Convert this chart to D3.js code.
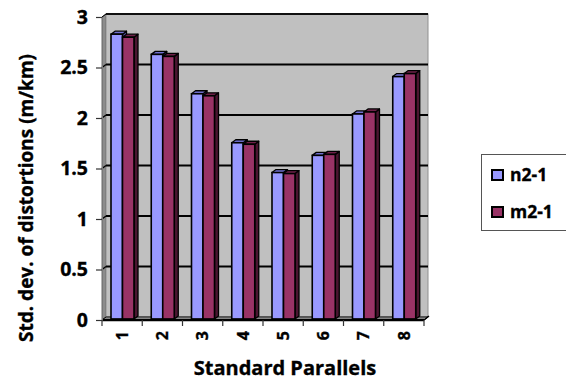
<!DOCTYPE html>
<html><head><meta charset="utf-8">
<script src="https://cdn.jsdelivr.net/npm/d3@7"></script>
<style>body{margin:0;background:#fff}svg{display:block}</style>
</head><body>
<svg id="c" width="566" height="380"></svg>
<script>
const categories = ["1","2","3","4","5","6","7","8"];
const seriesNames = ["n2-1","m2-1"];
const n2 = [2.83,2.63,2.24,1.755,1.46,1.63,2.04,2.41];
const m2 = [2.80,2.61,2.22,1.74,1.45,1.64,2.06,2.44];
const yTicks = [0,0.5,1,1.5,2,2.5,3];
const yTickLabels = ["0","0.5","1","1.5","2","2.5","3"];
const colors = ["#9999FF","#993366"];
const topColors = ["#7070d0","#6e2048"];
const sideColors = ["#5555aa","#4a1530"];

const svg = d3.select("#c");
const font = "'Open Sans', 'DejaVu Sans', sans-serif";
const heavy = sel => sel.attr("font-family",font).attr("font-weight","bold").attr("fill","#000")
  .attr("stroke","#000").attr("stroke-width",0.35);
const dx = 4, dy = -3;
const y = d3.scaleLinear().domain([0,3]).range([320,17]);
const x = d3.scaleBand().domain(categories).range([102,424]).padding(0);
const xs = d3.scaleBand().domain(seriesNames).range([9,32]).padding(0);

const x0 = 102, x1 = 424, yb = y(0), yt = y(3);
// left wall
svg.append("polygon").attr("points",[[x0,yb],[x0+dx,yb+dy],[x0+dx,yt+dy],[x0,yt]].join(" "))
  .attr("fill","#8c8c8c").attr("stroke","#444").attr("stroke-width",0.8);
// back wall
svg.append("rect").attr("x",x0+dx).attr("y",yt+dy).attr("width",x1-x0).attr("height",yb-yt)
  .attr("fill","#C0C0C0").attr("stroke","#909090").attr("stroke-width",1);
svg.append("line").attr("x1",x0).attr("y1",yt).attr("x2",x0+dx).attr("y2",yt+dy).attr("stroke","#000").attr("stroke-width",1);
svg.append("line").attr("x1",x0+dx).attr("y1",yt+dy).attr("x2",x1+dx).attr("y2",yt+dy).attr("stroke","#111").attr("stroke-width",1.8);
// gridlines
svg.selectAll(".grid").data(yTicks.filter(d=>d>0 && d<3)).join("line")
  .attr("x1",x0+dx).attr("x2",x1+dx).attr("y1",d=>y(d)+dy).attr("y2",d=>y(d)+dy)
  .attr("stroke","#000").attr("stroke-width",2);
svg.selectAll(".gridl").data(yTicks.filter(d=>d>0 && d<3)).join("line")
  .attr("x1",x0).attr("x2",x0+dx).attr("y1",d=>y(d)).attr("y2",d=>y(d)+dy)
  .attr("stroke","#000").attr("stroke-width",1.4);
// floor
svg.append("polygon").attr("points",[[x0,yb],[x1,yb],[x1+dx,yb+dy],[x0+dx,yb+dy]].join(" "))
  .attr("fill","#b0b0b0").attr("stroke","#000").attr("stroke-width",1);

// bars
const data = categories.map((c,i)=>({c, vals:[n2[i], m2[i]]}));
data.forEach(d=>{
  d.vals.forEach((v,s)=>{
    const bx = x(d.c) + xs(seriesNames[s]);
    const bw = xs.bandwidth();
    const top = y(v), bot = yb - 1;
    const g = svg.append("g");
    g.append("polygon").attr("points",[[bx+bw,bot],[bx+bw+dx,bot+dy],[bx+bw+dx,top+dy],[bx+bw,top]].join(" "))
      .attr("fill",sideColors[s]).attr("stroke","#000").attr("stroke-width",1.3).attr("stroke-linejoin","round");
    g.append("polygon").attr("points",[[bx,top],[bx+dx,top+dy],[bx+bw+dx,top+dy],[bx+bw,top]].join(" "))
      .attr("fill",topColors[s]).attr("stroke","#000").attr("stroke-width",1.3).attr("stroke-linejoin","round");
    g.append("rect").attr("x",bx).attr("y",top).attr("width",bw).attr("height",bot-top)
      .attr("fill",colors[s]).attr("stroke","#000").attr("stroke-width",1.6);
  });
});

// front floor edge
svg.append("line").attr("x1",x0).attr("x2",x1).attr("y1",yb).attr("y2",yb).attr("stroke","#000").attr("stroke-width",2.4);
svg.append("line").attr("x1",x1).attr("x2",x1+dx+1).attr("y1",yb).attr("y2",yb+dy-1).attr("stroke","#000").attr("stroke-width",1.5);
// y axis
const yAxis = d3.axisLeft(y).tickValues(yTicks).tickFormat((d,i)=>yTickLabels[i]).tickSize(6).tickPadding(8);
const ga = svg.append("g").attr("transform",`translate(${x0},0)`).call(yAxis);
ga.select(".domain").attr("stroke","#777").attr("stroke-width",1);
ga.selectAll(".tick line").attr("stroke","#333").attr("stroke-width",1.2);
ga.selectAll(".tick text").call(heavy).attr("font-size",19.5);
// x axis
const xAxis = d3.axisBottom(x).tickSize(0).tickPadding(0);
const gx = svg.append("g").attr("transform",`translate(0,${yb})`).call(xAxis);
gx.select(".domain").remove();
gx.selectAll(".tick text").call(heavy).attr("font-size",16)
  .attr("transform","rotate(-90)").attr("text-anchor","end").attr("dy","0.36em").attr("x",-11).attr("y",0);
svg.selectAll(".xt").data(d3.range(categories.length+1)).join("line")
  .attr("x1",i=>x0 + i*x.bandwidth()).attr("x2",i=>x0 + i*x.bandwidth())
  .attr("y1",yb).attr("y2",yb+6).attr("stroke","#333").attr("stroke-width",1.2);

// titles
svg.append("text").attr("x",285).attr("y",375).attr("text-anchor","middle")
  .call(heavy).attr("font-size",20).text("Standard Parallels");
svg.append("text").attr("transform","translate(33,198) rotate(-90)").attr("text-anchor","middle")
  .call(heavy).attr("font-size",19).text("Std. dev. of distortions (m/km)");

// legend
const lg = svg.append("g");
lg.append("rect").attr("x",481.5).attr("y",154.5).attr("width",100).attr("height",76)
  .attr("fill","#fff").attr("stroke","#555").attr("stroke-width",1);
seriesNames.forEach((n,i)=>{
  const ly = 170 + i*37;
  lg.append("rect").attr("x",492).attr("y",ly).attr("width",11).attr("height",10)
    .attr("fill",colors[i]).attr("stroke","#000").attr("stroke-width",2);
  lg.append("text").attr("x",510).attr("y",ly+11).call(heavy)
    .attr("font-size",17.5).text(n);
});
</script>
</body></html>
